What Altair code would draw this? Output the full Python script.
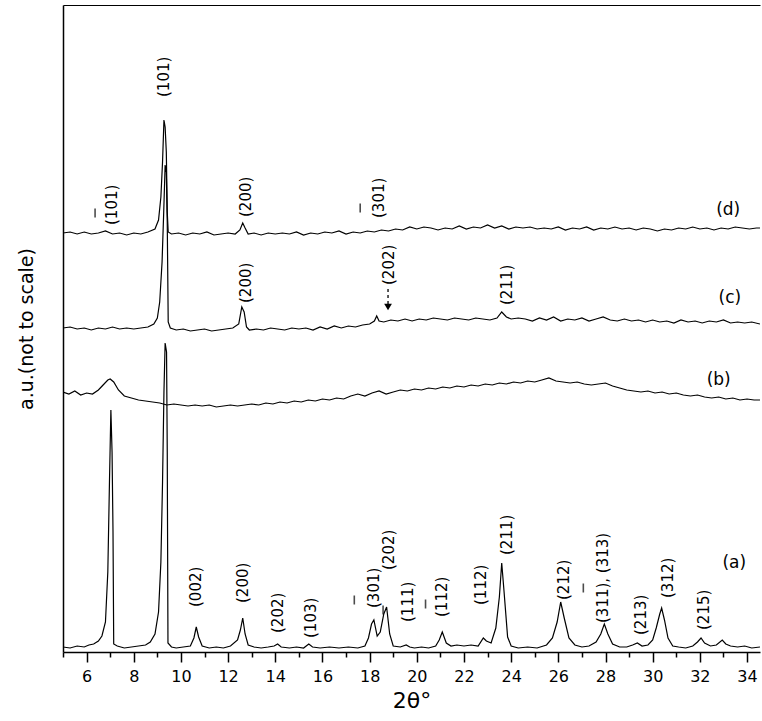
import altair as alt
import pandas as pd

# ---- trace (a) ----
a_x = [5.0, 5.3, 5.6, 5.9, 6.1, 6.3, 6.5, 6.65, 6.8, 6.9, 6.97, 7.03, 7.08, 7.12, 7.15, 7.3, 7.6, 7.9, 8.2, 8.5, 8.7, 8.9, 9.05, 9.15,
       9.22, 9.28, 9.33, 9.39, 9.42, 9.45, 9.6, 9.8, 10.1, 10.4, 10.55, 10.65, 10.75, 10.9, 11.2, 11.5, 11.8, 12.1, 12.4, 12.52,
       12.62, 12.72, 12.85, 13.1, 13.4, 13.7, 13.95, 14.1, 14.25, 14.6, 14.9, 15.2, 15.42, 15.58, 15.9, 16.3, 16.7, 17.1, 17.5,
       17.8, 17.95, 18.08, 18.18, 18.32, 18.45, 18.6, 18.72, 18.85, 19.0, 19.3, 19.55, 19.7, 19.9, 20.2, 20.5, 20.8, 20.95, 21.08,
       21.25, 21.45, 21.7, 22.0, 22.3, 22.6, 22.82, 22.95, 23.15, 23.35, 23.5, 23.6, 23.7, 23.85, 24.0, 24.3, 24.7, 25.1, 25.5,
       25.75, 25.95, 26.1, 26.25, 26.45, 26.7, 27.0, 27.3, 27.6, 27.8, 27.95, 28.1, 28.3, 28.6, 28.9, 29.15, 29.35, 29.55, 29.8,
       30.0, 30.15, 30.3, 30.38, 30.5, 30.65, 30.85, 31.1, 31.4, 31.7, 31.9, 32.05, 32.2, 32.45, 32.7, 32.95, 33.1, 33.3, 33.6,
       33.9, 34.2, 34.55]
a_y = [5, 4, 6, 5, 7, 8, 11, 16, 30, 80, 170, 242, 200, 120, 8, 6, 4, 5, 6, 7, 10, 18, 40, 90,
       170, 260, 309, 300, 200, 9, 5, 4, 5, 6, 14, 25, 15, 6, 4, 5, 4, 6, 12, 22,
       34, 18, 7, 5, 4, 5, 6, 8, 5, 4, 5, 4, 8, 5, 4, 5, 4, 5, 4,
       6, 14, 28, 32, 16, 20, 38, 45, 18, 6, 5, 7, 5, 4, 5, 4, 6, 12, 20,
       9, 6, 7, 6, 7, 6, 14, 11, 9, 24, 55, 89, 60, 15, 6, 4, 5, 4, 7,
       14, 30, 50, 34, 14, 7, 5, 6, 10, 18, 28, 18, 8, 5, 5, 7, 9, 6, 7,
       12, 24, 38, 44, 32, 14, 6, 5, 4, 6, 10, 14, 9, 6, 7, 12, 8, 6, 5,
       6, 4, 5]

# ---- trace (b) ----
b_x = [5.0, 5.25, 5.5, 5.75, 6.0, 6.25, 6.5, 6.7, 6.9, 7.0, 7.15, 7.35, 7.6, 7.9, 8.2, 8.5, 8.8, 9.1, 9.4, 9.7, 10.0, 10.3, 10.6,
       10.9, 11.2, 11.5, 11.8, 12.1, 12.4, 12.7, 13.0, 13.3, 13.6, 13.9, 14.2, 14.5, 14.8, 15.1, 15.4, 15.7, 16.0, 16.3, 16.6,
       16.9, 17.2, 17.5, 17.8, 18.1, 18.4, 18.7, 19.0, 19.3, 19.6, 19.9, 20.2, 20.5, 20.8, 21.1, 21.4, 21.7, 22.0, 22.3, 22.6,
       22.9, 23.2, 23.5, 23.8, 24.1, 24.4, 24.7, 25.0, 25.3, 25.6, 25.9, 26.2, 26.5, 26.8, 27.1, 27.4, 27.7, 28.0, 28.3, 28.6,
       28.9, 29.2, 29.5, 29.8, 30.1, 30.4, 30.7, 31.0, 31.3, 31.6, 31.9, 32.2, 32.5, 32.8, 33.1, 33.4, 33.7, 34.0, 34.3, 34.55]
b_y = [260, 258, 261, 257, 259, 258, 262, 267, 272, 273, 270, 262, 256, 254, 252, 251, 250, 249, 247, 248, 247, 246, 247,
       246, 247, 245, 246, 247, 246, 247, 248, 247, 249, 248, 250, 249, 251, 250, 252, 251, 253, 252, 254,
       253, 256, 258, 256, 259, 261, 258, 260, 262, 261, 263, 262, 264, 263, 265, 264, 266, 265, 267, 266,
       268, 267, 269, 268, 270, 269, 271, 270, 272, 274, 271, 270, 269, 270, 268, 267, 268, 269, 266, 264,
       262, 261, 260, 261, 259, 260, 258, 259, 257, 256, 257, 255, 254, 255, 253, 254, 252, 253, 252, 252]

# ---- trace (c) ----
c_x = [5.0, 5.3, 5.6, 5.9, 6.2, 6.5, 6.8, 7.1, 7.4, 7.7, 8.0, 8.3, 8.6, 8.85, 9.0, 9.1, 9.2, 9.27, 9.33, 9.38, 9.42, 9.46,
       9.55, 9.8, 10.1, 10.4, 10.7, 11.0, 11.3, 11.6, 11.9, 12.2, 12.45, 12.58, 12.68, 12.78, 12.9, 13.2, 13.5, 13.8, 14.1,
       14.4, 14.7, 15.0, 15.3, 15.6, 15.9, 16.2, 16.5, 16.8, 17.1, 17.4, 17.7, 18.0, 18.2, 18.3, 18.4, 18.6, 18.9, 19.2, 19.5,
       19.8, 20.1, 20.4, 20.7, 21.0, 21.3, 21.6, 21.9, 22.2, 22.5, 22.8, 23.1, 23.4, 23.6, 23.8, 24.0, 24.3, 24.6, 24.9, 25.2,
       25.5, 25.8, 26.1, 26.4, 26.7, 27.0, 27.3, 27.6, 27.9, 28.2, 28.5, 28.8, 29.1, 29.4, 29.7, 30.0, 30.3, 30.6, 30.9, 31.2,
       31.5, 31.8, 32.1, 32.4, 32.7, 33.0, 33.3, 33.6, 33.9, 34.2, 34.55]
c_y = [324, 325, 323, 324, 322, 324, 323, 325, 323, 324, 323, 324, 325, 328, 334, 350, 390, 440, 487, 480, 430, 330,
       324, 322, 323, 321, 322, 323, 321, 322, 323, 324, 328, 345, 340, 325, 322, 323, 322, 324, 323,
       322, 324, 323, 324, 322, 325, 323, 326, 324, 326, 325, 327, 328, 331, 336, 331, 330, 332, 331, 333,
       331, 333, 332, 334, 333, 332, 334, 333, 332, 334, 333, 332, 334, 340, 335, 333, 334, 333, 331, 334,
       332, 335, 331, 333, 332, 334, 331, 333, 335, 332, 331, 333, 331, 332, 330, 332, 330, 331, 329, 332,
       330, 331, 329, 331, 330, 332, 329, 330, 329, 330, 328]

# ---- trace (d) ----
d_x = [5.0, 5.3, 5.6, 5.9, 6.2, 6.5, 6.8, 7.1, 7.4, 7.7, 8.0, 8.3, 8.6, 8.9, 9.05, 9.15, 9.22, 9.28, 9.33, 9.38, 9.42, 9.46,
       9.6, 9.9, 10.2, 10.5, 10.8, 11.1, 11.4, 11.7, 12.0, 12.3, 12.5, 12.62, 12.72, 12.85, 13.1, 13.4, 13.7, 14.0, 14.3, 14.6,
       14.9, 15.2, 15.5, 15.8, 16.1, 16.4, 16.7, 17.0, 17.3, 17.6, 17.9, 18.2, 18.5, 18.8, 19.1, 19.4, 19.7, 20.0, 20.3, 20.6,
       20.9, 21.2, 21.5, 21.8, 22.1, 22.4, 22.7, 23.0, 23.3, 23.6, 23.9, 24.2, 24.5, 24.8, 25.1, 25.4, 25.7, 26.0, 26.3, 26.6,
       26.9, 27.2, 27.5, 27.8, 28.1, 28.4, 28.7, 29.0, 29.3, 29.6, 29.9, 30.2, 30.5, 30.8, 31.1, 31.4, 31.7, 32.0, 32.3, 32.6,
       32.9, 33.2, 33.5, 33.8, 34.1, 34.4, 34.55]
d_y = [419, 420, 418, 420, 418, 419, 421, 418, 419, 417, 419, 418, 420, 423, 432, 455, 490, 532, 525, 500, 440, 420,
       418, 419, 417, 419, 418, 420, 417, 418, 419, 418, 422, 429, 424, 418, 419, 417, 419, 418, 419, 418,
       420, 417, 419, 418, 420, 419, 421, 418, 420, 419, 421, 420, 422, 421, 423, 422, 425, 423, 425, 424,
       422, 424, 423, 426, 423, 425, 424, 427, 424, 426, 423, 425, 424, 425, 423, 424, 423, 425, 422, 424,
       423, 425, 422, 424, 423, 425, 423, 424, 422, 424, 423, 421, 423, 422, 424, 423, 425, 423, 424, 422,
       424, 423, 425, 424, 423, 424, 424]

# ---- reflection labels (2θ position, label start height, text) ----
hkl_x = [10.65, 12.65, 14.13, 15.52, 18.19, 18.82, 19.63, 21.07, 22.72, 23.83, 26.24, 27.9, 29.5, 30.65, 32.18,
         12.76, 18.82, 23.83,
         7.09, 9.29, 12.76, 18.4]
hkl_y = [45, 49, 19, 14, 44, 82, 30, 35, 47, 97, 52, 29, 17, 54, 22,
         349, 367, 347,
         427, 555, 435, 434]
hkl_text = ["(002)", "(200)", "(202)", "(103)", "(301)", "(202)", "(111)", "(112)", "(112)", "(211)", "(212)",
            "(311), (313)", "(213)", "(312)", "(215)",
            "(200)", "(202)", "(211)",
            "(101)", "(101)", "(200)", "(301)"]

# overbars of negative indices
bar_x = [17.35, 18.57, 20.37, 27.06, 6.36, 17.6]
bar_y = [52, 42, 48, 64, 439, 444]

# trace names
name_x = [33.46, 32.8, 33.27, 33.2]
name_y = [89, 272, 354, 442]
name_text = ["(a)", "(b)", "(c)", "(d)"]

# arrow pointing at (202) of trace (c)
arrow_x = [18.78]
arrow_top = [363]
arrow_tip = [345]

# axis ticks
tick_values = list(range(5, 35))

rows = []
for name, xs_, ys_ in [("a", a_x, a_y), ("b", b_x, b_y), ("c", c_x, c_y), ("d", d_x, d_y)]:
    for x, y in zip(xs_, ys_):
        rows.append({"trace": name, "tt": x, "I": y})
df = pd.DataFrame(rows)
lab = pd.DataFrame({"tt": hkl_x, "I": hkl_y, "t": hkl_text})
bars = pd.DataFrame({"tt": bar_x, "I": bar_y})
names = pd.DataFrame({"tt": name_x, "I": name_y, "t": name_text})
arrow = pd.DataFrame({"tt": arrow_x, "I": arrow_top, "I2": arrow_tip})

FONT = "DejaVu Sans"
xs = alt.Scale(domain=[5, 34.55], nice=False, zero=False)
ys = alt.Scale(domain=[0, 647], nice=False, zero=False)
Y_AXIS = alt.Axis(labels=False, ticks=False, grid=False, domain=True, domainColor="black", domainWidth=1.5,
                  title="a.u.(not to scale)", titleFontSize=19, titlePadding=27)


def yenc(field="I:Q"):
    return alt.Y(field, scale=ys, axis=Y_AXIS)


lines = alt.Chart(df).mark_line(color="black", strokeWidth=1.2, clip=True).encode(
    x=alt.X("tt:Q", scale=xs, axis=alt.Axis(
        values=tick_values, title="2θ°",
        labelExpr="datum.value % 2 == 0 ? datum.label : ''",
        tickSize={"condition": {"test": "datum.value % 2 == 0", "value": 10}, "value": 5},
        tickWidth=1.5, labelPadding=6, titlePadding=6,
        titleFontSize=22, labelFontSize=16, grid=False)),
    y=yenc(),
    detail="trace:N",
)

labels = alt.Chart(lab).mark_text(angle=270, align="left", baseline="middle", font=FONT, fontSize=15,
                                  color="black").encode(
    x=alt.X("tt:Q", scale=xs, axis=None),
    y=yenc(),
    text="t:N",
)

overbars = alt.Chart(bars).mark_tick(orient="vertical", size=9, thickness=1.6, color="black").encode(
    x=alt.X("tt:Q", scale=xs, axis=alt.Axis(orient="top", labels=False, ticks=False, title=None, grid=False,
                                            domainWidth=1)),
    y=yenc(),
)

tnames = alt.Chart(names).mark_text(font=FONT, fontSize=17, color="black").encode(
    x=alt.X("tt:Q", scale=xs, axis=None),
    y=yenc(),
    text="t:N",
)

arrow_line = alt.Chart(arrow).mark_rule(color="black", strokeWidth=1.3, strokeDash=[3, 3]).encode(
    x=alt.X("tt:Q", scale=xs, axis=None),
    y=yenc(),
    y2="I2:Q",
)
arrow_head = alt.Chart(arrow).mark_point(shape="triangle-down", filled=True, size=60, color="black",
                                         opacity=1).encode(
    x=alt.X("tt:Q", scale=xs, axis=None),
    y=yenc("I2:Q"),
)

chart = alt.layer(lines, labels, overbars, tnames, arrow_line, arrow_head).resolve_axis(
    x="independent"
).properties(
    width=697, height=647,
    padding={"left": 63, "top": 5, "right": 2, "bottom": 69},
    autosize=alt.AutoSizeParams(type="none"),
).configure_view(strokeWidth=0).configure_axis(
    labelFont=FONT, titleFont=FONT, titleFontWeight="normal", labelColor="black", titleColor="black",
    domainColor="black", tickColor="black", domainWidth=1.5,
)

chart.save("out.html", embed_options={"renderer": "svg", "actions": False})
